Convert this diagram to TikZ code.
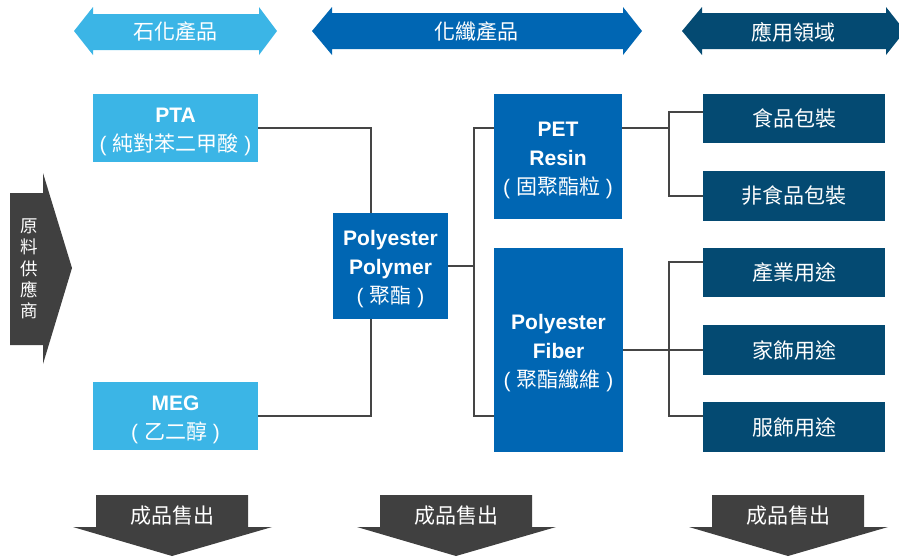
\documentclass[tikz,border=0pt]{standalone}
\usepackage{fontspec}
\setmainfont{Liberation Sans}
\newfontfamily\cjk{Noto Sans CJK TC}
\definecolor{lblue}{HTML}{3BB5E6}
\definecolor{mblue}{HTML}{0066B3}
\definecolor{dblue}{HTML}{044A72}
\definecolor{dgray}{HTML}{404040}
\definecolor{lgray}{HTML}{454545}
\tikzset{
 box/.style={rectangle, inner sep=0pt, align=center, text=white, font=\fontsize{21}{29}\selectfont},
 lbox/.style={box, fill=lblue},
 mbox/.style={box, fill=mblue},
 boxtext/.style={inner sep=0pt, align=center, text=white, font=\fontsize{21}{29}\selectfont, yshift=-3.5pt},
 dbox/.style={box, fill=dblue, font=\cjk\fontsize{21}{24}\selectfont},
 conn/.style={draw=lgray, line width=1.6pt},
 lab/.style={text=white, inner sep=0pt, align=center, font=\cjk\fontsize{21}{24}\selectfont},
}
\begin{document}
\begin{tikzpicture}[x=1pt,y=-1pt]
\useasboundingbox (0,0) rectangle (899,558);
% top double arrows
\fill[lblue] (74,31) -- (93,7) -- (93,14) -- (259,14) -- (259,7) -- (277,31) -- (259,55) -- (259,50) -- (93,50) -- (93,55) -- cycle;
\node[lab] (t1) at (175,32) {石化產品};
\fill[mblue] (312,31) -- (332,7) -- (332,13) -- (623,13) -- (623,7) -- (642,31) -- (623,55) -- (623,49) -- (332,49) -- (332,55) -- cycle;
\node[lab] (t2) at (476,32) {化纖產品};
\fill[dblue] (682,31) -- (702,7) -- (702,13) -- (886,13) -- (886,7) -- (905,31) -- (886,55) -- (886,49) -- (702,49) -- (702,55) -- cycle;
\node[lab] (t3) at (793,32) {應用領域};
% left arrow
\fill[dgray] (10,193) -- (43,193) -- (43,173) -- (72,268) -- (43,364) -- (43,345) -- (10,345) -- cycle;
\node[lab, font=\cjk\fontsize{17.5}{21.3}\selectfont] (src) at (29,269) {原\\料\\供\\應\\商};
% bottom arrows
\fill[dgray] (96,495) -- (248,495) -- (248,527) -- (272,527) -- (172,556) -- (73,527) -- (96,527) -- cycle;
\node[lab] (s1) at (172,516) {成品售出};
\fill[dgray] (380,495) -- (532,495) -- (532,527) -- (556,527) -- (456,556) -- (357,527) -- (380,527) -- cycle;
\node[lab] (s2) at (456,516) {成品售出};
\fill[dgray] (712,495) -- (864,495) -- (864,527) -- (888,527) -- (788,556) -- (689,527) -- (712,527) -- cycle;
\node[lab] (s3) at (788,516) {成品售出};
% boxes
\node[lbox, minimum width=165pt, minimum height=68pt] (pta) at (175.5,128) {};
\node[boxtext] (ptat) at (pta.center) {\textbf{PTA}\\( {\cjk 純對苯二甲酸} )};
\node[lbox, minimum width=165pt, minimum height=68pt] (meg) at (175.5,416) {};
\node[boxtext] (megt) at (meg.center) {\textbf{MEG}\\( {\cjk 乙二醇} )};
\node[mbox, minimum width=115pt, minimum height=106pt] (poly) at (390.5,266) {};
\node[boxtext] (polyt) at (poly.center) {\textbf{Polyester}\\\textbf{Polymer}\\( {\cjk 聚酯} )};
\node[mbox, minimum width=128pt, minimum height=125pt] (pet) at (558,156.5) {};
\node[boxtext] (pett) at (pet.center) {\textbf{PET}\\\textbf{Resin}\\( {\cjk 固聚酯粒} )};
\node[mbox, minimum width=129pt, minimum height=204pt] (fiber) at (558.5,350) {};
\node[boxtext] (fibert) at (fiber.center) {\textbf{Polyester}\\\textbf{Fiber}\\( {\cjk 聚酯纖維} )};
\node[dbox, minimum width=182pt, minimum height=49pt] (r1) at (794,118.5) {食品包裝};
\node[dbox, minimum width=182pt, minimum height=50pt] (r2) at (794,196) {非食品包裝};
\node[dbox, minimum width=182pt, minimum height=49pt] (r3) at (794,272.5) {產業用途};
\node[dbox, minimum width=182pt, minimum height=50pt] (r4) at (794,350) {家飾用途};
\node[dbox, minimum width=182pt, minimum height=50pt] (r5) at (794,427) {服飾用途};
% junction coordinates
\coordinate (j1) at (371,0);
\coordinate (j2) at (474,0);
\coordinate (j3) at (669,0);
% connectors
\draw[conn] (pta.east) -| (j1 |- poly.north);
\draw[conn] (meg.east) -| (j1 |- poly.south);
\draw[conn] (poly.east) -- (j2 |- poly.east);
\draw[conn] (pet.west |- pta.east) -| (j2 |- meg.east) -- (fiber.west |- meg.east);
\draw[conn] (pet.east |- pta.east) -- (j3 |- pta.east);
\draw[conn] ([yshift=6.5pt]r1.west) -| (j3 |- r2.west) -- (r2.west);
\draw[conn] (fiber.east) -- (r4.west);
\draw[conn] ([yshift=10.5pt]r3.west) -| (j3 |- 0,416) -- ([yshift=11pt]r5.west);
\end{tikzpicture}
\end{document}
